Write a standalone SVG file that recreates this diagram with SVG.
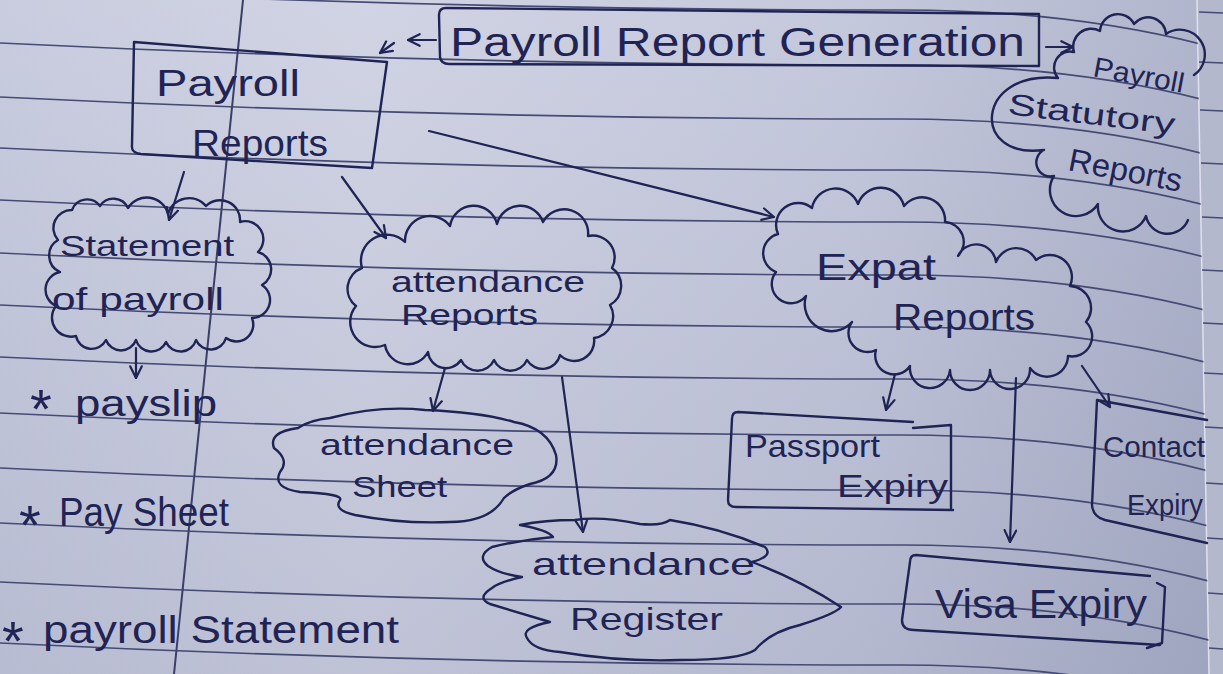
<svg xmlns="http://www.w3.org/2000/svg" width="1223" height="674" viewBox="0 0 1223 674">
  <defs>
    <linearGradient id="paper" x1="0" y1="0" x2="1" y2="0">
      <stop offset="0" stop-color="#c4c8dc"/>
      <stop offset="0.3" stop-color="#cdd0e1"/>
      <stop offset="0.7" stop-color="#c0c4d9"/>
      <stop offset="1" stop-color="#a8aec7"/>
    </linearGradient>
    <linearGradient id="shade" x1="0" y1="0" x2="0" y2="1">
      <stop offset="0" stop-color="#ffffff" stop-opacity="0.08"/>
      <stop offset="1" stop-color="#2a2f5a" stop-opacity="0.08"/>
    </linearGradient>
    <clipPath id="page">
      <polygon points="0,0 1197,0 1209,674 0,674"/>
    </clipPath>
    <marker id="ah" viewBox="0 0 12 12" refX="11" refY="6" markerWidth="14" markerHeight="14" markerUnits="userSpaceOnUse" orient="auto">
      <path d="M1,1 L11,6 L1,11" fill="none" stroke="#1f2455" stroke-width="1.9" stroke-linecap="round" stroke-linejoin="round"/>
    </marker>
    <marker id="ahs" viewBox="0 0 12 12" refX="11" refY="6" markerWidth="11" markerHeight="11" markerUnits="userSpaceOnUse" orient="auto">
      <path d="M1,1 L11,6 L1,11" fill="none" stroke="#1f2455" stroke-width="2.2" stroke-linecap="round" stroke-linejoin="round"/>
    </marker>
  </defs>
  <style>
    .rule { fill: none; stroke: #464b75; stroke-width: 1.7; }
    .ink { fill: none; stroke: #1f2455; stroke-width: 2.4; stroke-linecap: round; stroke-linejoin: round; }
    .conn { fill: none; stroke: #1f2455; stroke-width: 2.2; stroke-linecap: round; marker-end: url(#ah); }
    text { font-family: "Liberation Sans", Arial, sans-serif; fill: #1f2455; }
    .t30 { font-size: 30px; }
    .t32 { font-size: 32px; }
    .t36 { font-size: 36px; }
    .star { font-size: 56px; }
  </style>

  <!-- paper -->
  <rect x="0" y="0" width="1223" height="674" fill="url(#paper)"/>
  <rect x="0" y="0" width="1223" height="674" fill="url(#shade)"/>
  <polygon points="1197,0 1223,0 1223,674 1209,674" fill="#b3b8cd"/>
  <path d="M1197,0 L1209,674" stroke="#dfe1ec" stroke-width="1.5" fill="none"/>
  <g class="rule" stroke-width="1.4">
    <path d="M1199,12 L1223,13"/><path d="M1199,62 L1223,63"/><path d="M1200,110 L1223,111"/>
    <path d="M1201,163 L1223,164"/><path d="M1202,217 L1223,218"/><path d="M1202,270 L1223,271"/>
    <path d="M1203,323 L1223,324"/><path d="M1204,373 L1223,374"/><path d="M1205,427 L1223,428"/>
    <path d="M1206,483 L1223,484"/><path d="M1207,538 L1223,539"/><path d="M1208,593 L1223,594"/>
    <path d="M1209,648 L1223,649"/>
  </g>
  <g class="rule" clip-path="url(#page)">
    <path d="M0,-12 Q450,10 900,10 Q1080,10 1223,50"/>
    <path d="M0,43 Q450,65 900,65 Q1080,65 1223,105"/>
    <path d="M0,97 Q450,119 900,119 Q1080,119 1223,159"/>
    <path d="M0,148 Q450,170 900,170 Q1080,170 1223,210"/>
    <path d="M0,200 Q450,222 900,222 Q1080,222 1223,262"/>
    <path d="M0,253 Q450,275 900,275 Q1080,275 1223,315"/>
    <path d="M0,305 Q450,327 900,327 Q1080,327 1223,367"/>
    <path d="M0,357 Q450,379 900,379 Q1080,379 1223,419"/>
    <path d="M0,413 Q450,435 900,435 Q1080,435 1223,475"/>
    <path d="M0,468 Q450,490 900,490 Q1080,490 1223,530"/>
    <path d="M0,523 Q450,545 900,545 Q1080,545 1223,585"/>
    <path d="M0,582 Q450,604 900,604 Q1080,604 1223,644"/>
    <path d="M0,643 Q450,665 900,665 Q1080,665 1223,705"/>
  </g>
  <path d="M243,0 L174,674" stroke="#3b3e68" stroke-width="2" fill="none"/>

  <!-- connectors -->
  <g id="connectors">
    <path class="conn" d="M436,40 L408,40"/>
    <path class="conn" d="M394,43 L380,53" marker-end="url(#ahs)"/>
    <path class="conn" d="M1046,47 L1073,47"/>
    <path class="conn" d="M184,172 L169,220"/>
    <path class="conn" d="M342,177 L386,238"/>
    <path class="conn" d="M429,131 L774,217"/>
    <path class="conn" d="M136,348 L136,378"/>
    <path class="conn" d="M445,368 L433,411"/>
    <path class="conn" d="M562,377 L583,532"/>
    <path class="conn" d="M895,374 L886,410"/>
    <path class="conn" d="M1016,378 L1010,542"/>
    <path class="conn" d="M1082,366 L1110,407"/>
  </g>

  <!-- title -->
  <g id="payroll-report-generation">
    <path class="ink" d="M1039,14 L446,8 Q439,8 439,15 L440,57 Q441,64 449,64 L1039,66 Z"/>
    <text x="450" y="56" font-size="40" textLength="575" lengthAdjust="spacingAndGlyphs">Payroll Report Generation</text>
  </g>

  <g id="payroll-reports">
    <path class="ink" d="M134,42 L387,62 L372,168 L141,154 Q131,153 132,145 Z"/>
    <text class="t36" x="156" y="96" textLength="144" lengthAdjust="spacingAndGlyphs">Payroll</text>
    <text class="t36" x="192" y="156" textLength="136" lengthAdjust="spacingAndGlyphs">Reports</text>
  </g>

  <g id="payroll-statutory-reports">
    <path class="ink" d="M1194,75 A20,20 0 0 0 1166,34 A18,18 0 0 0 1134,24 A18,18 0 0 0 1100,31 A18,18 0 0 0 1074,52 A16,16 0 0 0 1058,78 C975,70 970,160 1044,150 A14,14 0 0 0 1054,176 A26,26 0 0 0 1098,204 A25,25 0 0 0 1146,216 A22,22 0 0 0 1188,220"/>
    <text x="1092" y="76" font-size="28" textLength="92" lengthAdjust="spacingAndGlyphs" transform="rotate(10.6 1092 76)">Payroll</text>
    <text x="1007" y="114" font-size="30" textLength="168" lengthAdjust="spacingAndGlyphs" transform="rotate(7 1007 114)">Statutory</text>
    <text x="1067" y="170" font-size="32" textLength="115" lengthAdjust="spacingAndGlyphs" transform="rotate(11 1067 170)">Reports</text>
  </g>

  <g id="statement-of-payroll">
    <path class="ink" d="M58,240 A18,18 0 0 1 72,210 A16,16 0 0 1 100,206 A16,16 0 0 1 128,208 A22,22 0 0 1 168,214 A22,22 0 0 1 206,206 A20,20 0 0 1 240,222 A18,18 0 0 1 258,252 A18,18 0 0 1 262,285 A18,18 0 0 1 252,318 A17,17 0 0 1 226,338 A16,16 0 0 1 196,340 A16,16 0 0 1 166,342 A16,16 0 0 1 136,340 A16,16 0 0 1 106,340 A16,16 0 0 1 76,336 A19,19 0 0 1 56,306 A18,18 0 0 1 60,272 A18,18 0 0 1 58,240 Z"/>
    <text class="t30" x="60" y="256" textLength="174" lengthAdjust="spacingAndGlyphs">Statement</text>
    <text class="t32" x="52" y="310" textLength="172" lengthAdjust="spacingAndGlyphs">of payroll</text>
  </g>

  <g id="attendance-reports">
    <path class="ink" d="M362,268 A26,26 0 0 1 405,242 A25,25 0 0 1 450,226 A24,24 0 0 1 497,224 A24,24 0 0 1 543,222 A24,24 0 0 1 588,236 A22,22 0 0 1 612,268 A22,22 0 0 1 610,305 A22,22 0 0 1 594,338 A20,20 0 0 1 560,355 A18,18 0 0 1 527,360 A18,18 0 0 1 494,360 A18,18 0 0 1 461,360 A18,18 0 0 1 428,352 A23,23 0 0 1 385,345 A25,25 0 0 1 356,306 A22,22 0 0 1 362,268 Z"/>
    <text class="t30" x="391" y="292" textLength="194" lengthAdjust="spacingAndGlyphs">attendance</text>
    <text class="t30" x="401" y="325" textLength="137" lengthAdjust="spacingAndGlyphs">Reports</text>
  </g>

  <g id="expat-reports">
    <path class="ink" d="M776,272 A20,20 0 0 1 778,234 A22,22 0 0 1 812,208 A24,24 0 0 1 858,204 A24,24 0 0 1 904,206 A23,23 0 0 1 945,222 A20,20 0 0 1 958,256 A20,20 0 0 1 996,262 A22,22 0 0 1 1036,260 A22,22 0 0 1 1070,286 A22,22 0 0 1 1086,322 A20,20 0 0 1 1068,356 A21,21 0 0 1 1030,368 A20,20 0 0 1 990,370 A20,20 0 0 1 950,370 A20,20 0 0 1 910,366 A19,19 0 0 1 876,350 A19,19 0 0 1 852,322 A27,27 0 0 1 806,296 A19,19 0 0 1 776,272 Z"/>
    <text class="t36" x="816" y="280" textLength="120" lengthAdjust="spacingAndGlyphs">Expat</text>
    <text class="t36" x="893" y="330" textLength="142" lengthAdjust="spacingAndGlyphs">Reports</text>
  </g>

  <g id="payslip">
    <text class="star" x="30" y="428">*</text>
    <text class="t36" x="75" y="416" textLength="142" lengthAdjust="spacingAndGlyphs">payslip</text>
  </g>
  <g id="pay-sheet">
    <text class="star" x="19" y="544">*</text>
    <text x="59" y="526" font-size="40" textLength="170" lengthAdjust="spacingAndGlyphs">Pay Sheet</text>
  </g>
  <g id="payroll-statement">
    <text class="star" x="2" y="660">*</text>
    <text x="43" y="643" font-size="38" textLength="356" lengthAdjust="spacingAndGlyphs">payroll Statement</text>
  </g>

  <g id="attendance-sheet">
    <path class="ink" d="M300,492 Q272,488 280,472 Q290,460 274,448 Q268,432 298,428 Q310,420 330,418 Q380,405 425,410 Q480,412 514,422 Q548,428 556,455 Q560,478 530,484 Q512,490 504,498 Q490,522 450,522 Q400,524 355,515 Q333,510 340,500 Q344,494 300,492 Z"/>
    <text class="t30" x="320" y="455" textLength="194" lengthAdjust="spacingAndGlyphs">attendance</text>
    <text class="t30" x="352" y="497" textLength="95" lengthAdjust="spacingAndGlyphs">Sheet</text>
  </g>

  <g id="attendance-register">
    <path class="ink" d="M520,525 Q548,530 553,537 Q520,540 492,547 Q476,556 488,566 Q500,574 522,577 Q500,582 492,588 Q476,598 490,604 Q510,610 550,622 Q520,628 527,638 Q533,650 560,652 Q620,662 680,660 Q740,660 755,650 Q770,632 800,625 Q835,614 841,607 Q800,580 752,562 Q774,556 765,547 Q720,528 670,520 Q662,526 640,524 Q600,516 575,520 Q545,520 520,525 Z"/>
    <text class="t32" x="532" y="575" textLength="223" lengthAdjust="spacingAndGlyphs">attendance</text>
    <text class="t32" x="570" y="630" textLength="153" lengthAdjust="spacingAndGlyphs">Register</text>
  </g>

  <g id="passport-expiry">
    <path class="ink" d="M913,422 L738,412 Q732,412 732,419 L728,500 Q728,507 736,507 L953,510 M913,428 L951,425 L951,508"/>
    <text class="t32" x="745" y="457" textLength="135" lengthAdjust="spacingAndGlyphs">Passport</text>
    <text class="t32" x="837" y="497" textLength="111" lengthAdjust="spacingAndGlyphs">Expiry</text>
  </g>

  <g id="contact-expiry">
    <path class="ink" d="M1207,420 L1097,400 L1092,505 Q1093,517 1105,520 L1207,543"/>
    <text class="t30" x="1103" y="457" textLength="102" lengthAdjust="spacingAndGlyphs">Contact</text>
    <text class="t30" x="1127" y="515" textLength="76" lengthAdjust="spacingAndGlyphs">Expiry</text>
  </g>

  <g id="visa-expiry">
    <path class="ink" d="M1150,576 L916,555 Q910,555 910,562 L902,620 Q902,630 914,630 L1160,645 M1157,583 L1165,587 L1162,643 L1147,648"/>
    <text x="935" y="618" font-size="40" textLength="212" lengthAdjust="spacingAndGlyphs">Visa Expiry</text>
  </g>
</svg>
